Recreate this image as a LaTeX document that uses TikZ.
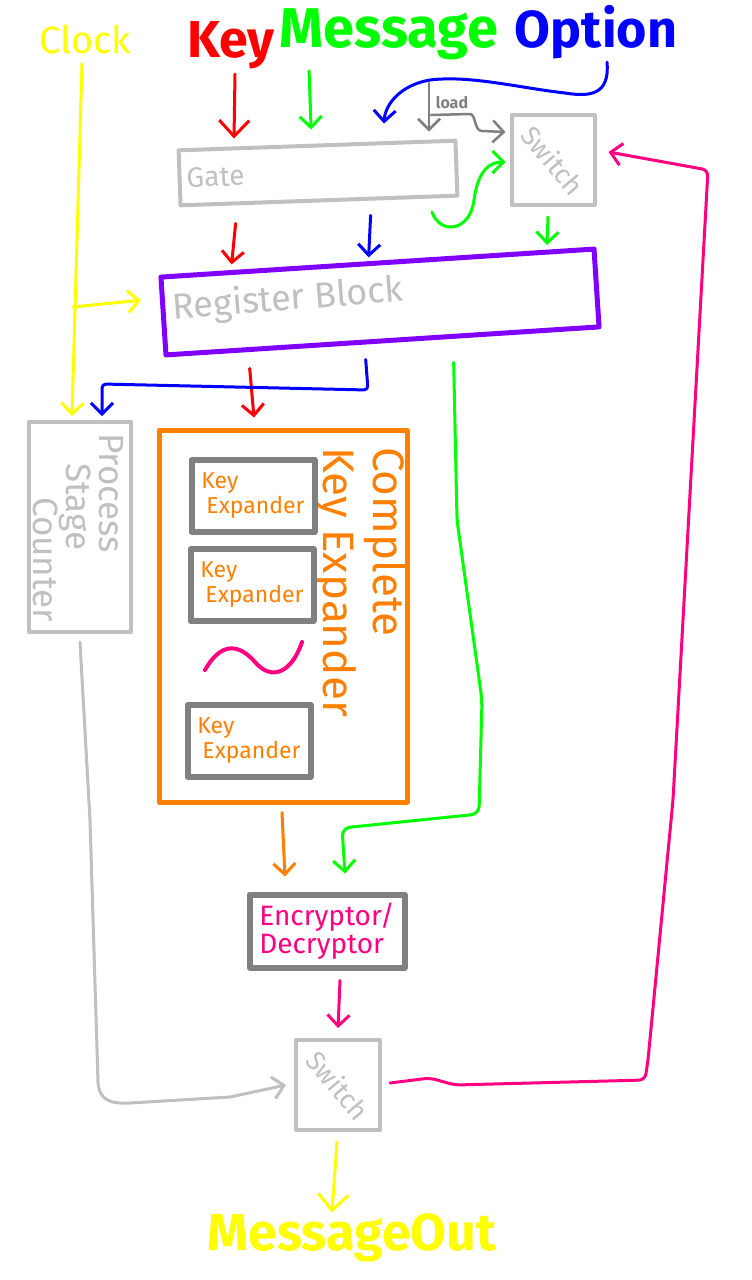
\documentclass[tikz,border=0pt]{standalone}
\usepackage{fontspec}
\setmainfont{Fira Sans}
\usetikzlibrary{arrows.meta,calc}
\definecolor{cyel}{HTML}{FFFF00}
\definecolor{cred}{HTML}{FF0000}
\definecolor{cgrn}{HTML}{00FF00}
\definecolor{cblu}{HTML}{0000FF}
\definecolor{cpur}{HTML}{8000FF}
\definecolor{corg}{HTML}{FF8000}
\definecolor{cpnk}{HTML}{FF0080}
\definecolor{clgr}{HTML}{C0C0C0}
\definecolor{cdgr}{HTML}{808080}
\newcommand{\myfs}[1]{\fontsize{#1}{#1}\selectfont}
\begin{document}
\begin{tikzpicture}[x=1pt,y=-1pt,line cap=round,line join=round,
  conn/.style={line width=3pt,-{Straight Barb[length=11pt,width=22pt]}},
  bigconn/.style={line width=3pt,-{Straight Barb[length=16pt,width=30pt]}},
  lbox/.style={draw=clgr,line width=4pt,inner sep=0pt},
  dbox/.style={draw=cdgr,line width=6pt,inner sep=0pt}]
\fill[white] (0,0) rectangle (752,1280);
\useasboundingbox (0,0) rectangle (752,1280);

% titles
\node[anchor=base,text=cyel,font=\myfs{38}] (clock) at (85,53) {Clock};
\node[anchor=base,text=cred,font=\myfs{52}\bfseries] (key) at (231,57) {Key};
\node[anchor=base,text=cgrn,font=\myfs{56}\bfseries] (msg) at (389,47) {Message};
\node[anchor=base,text=cblu,font=\myfs{52}\bfseries] (opt) at (596,47) {Option};

% boxes
\node[lbox,minimum height=55pt,text width=263pt,inner xsep=7pt,rotate=2,align=left,text=clgr,font=\myfs{28}] (gate) at (318,173) {Gate};
\node[lbox,minimum width=83pt,minimum height=90pt,text=clgr,font=\myfs{27}] (sw1) at (553,160) {\rotatebox[origin=c]{-50}{Switch}};
\node[draw=cpur,line width=5pt,minimum width=434pt,minimum height=78pt,rotate=3.7,inner sep=0pt] (reg) at (380,302) {};
\node[rotate=4.5,text=clgr,font=\myfs{36}] (regt) at (288,300) {Register Block};
\node[lbox,minimum width=102pt,minimum height=210pt] (psc) at (80,527) {};
\node[rotate=-90,anchor=north west,inner sep=0pt,text=clgr,font=\fontsize{35}{33}\selectfont,align=left] (psct) at (124,433) {Process\\\hspace*{30pt}Stage\\\hspace*{64pt}Counter};
\node[draw=corg,line width=5pt,minimum width=248pt,minimum height=372pt,inner sep=0pt] (cke) at (283,616) {};
\node[rotate=-90,text=corg,font=\fontsize{44}{50}\selectfont,align=left] (ckt) at (360,582) {Complete\\Key Expander};
\node[dbox,minimum width=123pt,minimum height=72pt,text=corg,font=\fontsize{23}{25}\selectfont,align=left] (ke1) at (253,496) {Key\\\hspace*{5pt}Expander};
\node[dbox,minimum width=123pt,minimum height=72pt,text=corg,font=\fontsize{23}{25}\selectfont,align=left] (ke2) at (252,585) {Key\\\hspace*{5pt}Expander};
\node[dbox,minimum width=123pt,minimum height=72pt,text=corg,font=\fontsize{23}{25}\selectfont,align=left] (ke3) at (249,741) {Key\\\hspace*{5pt}Expander};
\draw[cpnk,line width=4pt] (205,670) .. controls (222,640) and (240,645) .. (255,662) .. controls (272,682) and (292,672) .. (302,642);
\node[dbox,minimum width=155pt,minimum height=73pt,text=cpnk,font=\fontsize{28}{28}\selectfont,align=left] (enc) at (327,931) {Encryptor/\\Decryptor};
\node[lbox,minimum width=84pt,minimum height=90pt,text=clgr,font=\myfs{27}] (sw2) at (338,1085) {\rotatebox[origin=c]{-50}{Switch}};
\node[anchor=base,text=cyel,font=\myfs{52}\bfseries] (mout) at (352,1250) {MessageOut};

% connectors
\draw[conn,cyel] ($(clock.south)+(-3,7)$) -- ($(psc.north)+(-8,-4)$);
\coordinate (cb) at (73,307);
\draw[conn,cyel] (cb) -- ($(reg.west)+(-20,-16)$);
\draw[bigconn,cred] ($(key.south)+(4,2)$) -- ($(key.south |- gate.north)+(3,-5)$);
\draw[conn,cgrn] ($(msg.south west)+(33,8)$) -- ($(msg.south west |- gate.north)+(35,-14)$);
\draw[conn,cblu] ($(opt.south)+(11,0)$) .. controls (610,95) and (590,97) .. (565,93) .. controls (520,88) and (470,75) .. (430,80) .. controls (400,85) and (385,105) .. ($(gate.north)+(67,-20)$);
\coordinate (ld) at (429,83);
\draw[conn,cdgr,line width=2.5pt] (ld) -- ($(ld |- gate.north)+(0,-12)$);
\draw[conn,cdgr,line width=2.5pt] ($(ld)+(2,32)$) -- (470,114) .. controls (476,114) and (474,131) .. (482,131) -- ($(sw1.west)+(-4,-28)$);
\node[text=cdgr,font=\myfs{16}\bfseries] (loadt) at (452,103) {load};
\coordinate (gs) at (432,212);
\draw[conn,cgrn] (gs) .. controls (440,235) and (470,232) .. (474,200) .. controls (478,170) and (490,162) .. ($(sw1.west)+(-4,2)$);
\draw[conn,cgrn] ($(sw1.south)+(-5,10)$) -- ($(sw1.south)+(-6,38)$);
\draw[conn,cred] ($(gate.south west)+(57,16)$) -- ($(gate.south west)+(53,57)$);
\draw[conn,cblu] ($(gate.south west)+(192,8)$) -- ($(gate.south west)+(190,50)$);
\draw[conn,cred] ($(reg.south)+(-133,25)$) -- ($(cke.north)+(-29,-10)$);
\draw[conn,cblu,rounded corners=4pt] ($(reg.south)+(-17,16)$) -- (368,390) -- (102,384) -- ($(psc.north)+(22,-4)$);
\draw[conn,cgrn,rounded corners=8pt] ($(reg.south)+(71,19)$) -- (457,520) -- (482,700) -- (479,814) -- (342,828) -- ($(enc.north)+(18,-18)$);
\draw[conn,corg] ($(cke.south)+(-1,8)$) -- ($(enc.north)+(-42,-15)$);
\draw[conn,cpnk] ($(enc.south)+(13,10)$) -- ($(sw2.north)+(0,-10)$);
\draw[bigconn,cyel] ($(sw2.south)+(-1,10)$) -- ($(mout.north)+(-20,3)$);
\draw[conn,clgr] ($(psc.south)+(0,8)$) -- (90,820) -- (98,1082) .. controls (99,1100) and (110,1104) .. (130,1103) -- (230,1097) -- ($(sw2.west)+(-8,0)$);
\draw[conn,cpnk,rounded corners=6pt] ($(sw2.east)+(8,-2)$) -- (430,1078) -- (455,1085) -- (645,1080) -- (648,1060) -- (673,800) -- (708,170) -- ($(sw1.east)+(12,-8)$);
\end{tikzpicture}
\end{document}
